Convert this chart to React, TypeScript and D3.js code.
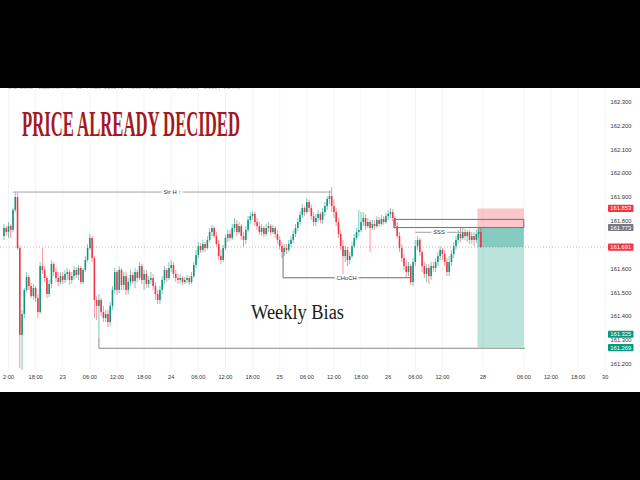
import React from 'react';
import * as d3 from 'd3';

// 30-minute bars, index 0 = 22nd 12:00 ; first stored bar is index -2
const FIRST_BAR = -2;

// [open, high, low, close]
const candles: [number, number, number, number][] = [
  [161.737, 161.788, 161.721, 161.771], [161.771, 161.779, 161.737, 161.754],
  [161.754, 161.796, 161.729, 161.779], [161.779, 161.788, 161.729, 161.763],
  [161.763, 161.855, 161.754, 161.847], [161.847, 161.922, 161.838, 161.901],
  [161.901, 161.918, 161.679, 161.687], [161.687, 161.695, 161.183, 161.322],
  [161.322, 161.427, 161.175, 161.410], [161.410, 161.519, 161.393, 161.511],
  [161.511, 161.586, 161.502, 161.565], [161.565, 161.574, 161.511, 161.527],
  [161.527, 161.540, 161.477, 161.485], [161.485, 161.536, 161.469, 161.519],
  [161.519, 161.527, 161.460, 161.477], [161.477, 161.494, 161.393, 161.418],
  [161.418, 161.628, 161.410, 161.611], [161.611, 161.687, 161.578, 161.595],
  [161.595, 161.611, 161.544, 161.561], [161.561, 161.569, 161.477, 161.494],
  [161.494, 161.553, 161.481, 161.536], [161.536, 161.637, 161.519, 161.620],
  [161.620, 161.628, 161.569, 161.586], [161.586, 161.603, 161.544, 161.561],
  [161.561, 161.586, 161.527, 161.544], [161.544, 161.586, 161.532, 161.569],
  [161.569, 161.586, 161.536, 161.553], [161.553, 161.595, 161.540, 161.578],
  [161.578, 161.603, 161.553, 161.586], [161.586, 161.595, 161.532, 161.553],
  [161.553, 161.586, 161.536, 161.569], [161.569, 161.611, 161.553, 161.595],
  [161.595, 161.607, 161.561, 161.574], [161.574, 161.616, 161.553, 161.603],
  [161.603, 161.611, 161.536, 161.544], [161.544, 161.603, 161.536, 161.595],
  [161.595, 161.653, 161.586, 161.637], [161.637, 161.704, 161.628, 161.687],
  [161.687, 161.746, 161.679, 161.729], [161.729, 161.737, 161.628, 161.645],
  [161.645, 161.653, 161.393, 161.469], [161.469, 161.485, 161.385, 161.444],
  [161.444, 161.494, 161.309, 161.469], [161.469, 161.477, 161.402, 161.418],
  [161.418, 161.444, 161.376, 161.393], [161.393, 161.427, 161.376, 161.410],
  [161.410, 161.427, 161.355, 161.376], [161.376, 161.460, 161.360, 161.444],
  [161.444, 161.527, 161.427, 161.511], [161.511, 161.603, 161.494, 161.586],
  [161.586, 161.595, 161.490, 161.511], [161.511, 161.611, 161.498, 161.595],
  [161.595, 161.603, 161.511, 161.532], [161.532, 161.586, 161.511, 161.569],
  [161.569, 161.586, 161.490, 161.511], [161.511, 161.561, 161.494, 161.544],
  [161.544, 161.595, 161.527, 161.574], [161.574, 161.586, 161.536, 161.548],
  [161.548, 161.603, 161.519, 161.586], [161.586, 161.595, 161.544, 161.561],
  [161.561, 161.628, 161.553, 161.611], [161.611, 161.620, 161.536, 161.553],
  [161.553, 161.595, 161.511, 161.578], [161.578, 161.595, 161.519, 161.536],
  [161.536, 161.569, 161.519, 161.553], [161.553, 161.586, 161.536, 161.561],
  [161.561, 161.578, 161.511, 161.527], [161.527, 161.544, 161.469, 161.494],
  [161.494, 161.511, 161.452, 161.469], [161.469, 161.527, 161.452, 161.511],
  [161.511, 161.569, 161.494, 161.553], [161.553, 161.611, 161.536, 161.595],
  [161.595, 161.603, 161.544, 161.561], [161.561, 161.628, 161.553, 161.603],
  [161.603, 161.637, 161.586, 161.616], [161.616, 161.628, 161.561, 161.578],
  [161.578, 161.595, 161.544, 161.561], [161.561, 161.578, 161.536, 161.553],
  [161.553, 161.578, 161.536, 161.561], [161.561, 161.569, 161.532, 161.544],
  [161.544, 161.565, 161.536, 161.553], [161.553, 161.574, 161.540, 161.561],
  [161.561, 161.569, 161.532, 161.544], [161.544, 161.586, 161.536, 161.569],
  [161.569, 161.628, 161.561, 161.616], [161.616, 161.679, 161.603, 161.658],
  [161.658, 161.712, 161.645, 161.695], [161.695, 161.708, 161.666, 161.679],
  [161.679, 161.721, 161.670, 161.704], [161.704, 161.712, 161.670, 161.687],
  [161.687, 161.737, 161.679, 161.721], [161.721, 161.771, 161.712, 161.754],
  [161.754, 161.784, 161.737, 161.771], [161.771, 161.779, 161.729, 161.737],
  [161.737, 161.754, 161.695, 161.704], [161.704, 161.721, 161.637, 161.653],
  [161.653, 161.679, 161.620, 161.637], [161.637, 161.700, 161.628, 161.687],
  [161.687, 161.742, 161.679, 161.729], [161.729, 161.763, 161.712, 161.746],
  [161.746, 161.763, 161.716, 161.729], [161.729, 161.788, 161.721, 161.771],
  [161.771, 161.813, 161.754, 161.788], [161.788, 161.805, 161.737, 161.754],
  [161.754, 161.796, 161.746, 161.779], [161.779, 161.788, 161.721, 161.737],
  [161.737, 161.754, 161.691, 161.721], [161.721, 161.779, 161.704, 161.763],
  [161.763, 161.821, 161.754, 161.805], [161.805, 161.838, 161.788, 161.821],
  [161.821, 161.842, 161.805, 161.830], [161.830, 161.838, 161.779, 161.796],
  [161.796, 161.813, 161.763, 161.779], [161.779, 161.796, 161.742, 161.754],
  [161.754, 161.788, 161.737, 161.771], [161.771, 161.779, 161.733, 161.746],
  [161.746, 161.788, 161.737, 161.771], [161.771, 161.796, 161.754, 161.779],
  [161.779, 161.788, 161.742, 161.754], [161.754, 161.784, 161.746, 161.771],
  [161.771, 161.779, 161.729, 161.746], [161.746, 161.763, 161.704, 161.721],
  [161.721, 161.737, 161.679, 161.695], [161.695, 161.712, 161.645, 161.670],
  [161.670, 161.704, 161.653, 161.687], [161.687, 161.704, 161.662, 161.679],
  [161.679, 161.721, 161.670, 161.704], [161.704, 161.737, 161.691, 161.721],
  [161.721, 161.763, 161.708, 161.746], [161.746, 161.788, 161.733, 161.771],
  [161.771, 161.813, 161.758, 161.796], [161.796, 161.842, 161.784, 161.826],
  [161.826, 161.872, 161.813, 161.855], [161.855, 161.863, 161.821, 161.838],
  [161.838, 161.897, 161.830, 161.880], [161.880, 161.889, 161.838, 161.855],
  [161.855, 161.868, 161.805, 161.821], [161.821, 161.838, 161.779, 161.796],
  [161.796, 161.830, 161.779, 161.813], [161.813, 161.847, 161.796, 161.830],
  [161.830, 161.838, 161.792, 161.805], [161.805, 161.855, 161.788, 161.838],
  [161.838, 161.880, 161.821, 161.863], [161.863, 161.905, 161.847, 161.893],
  [161.893, 161.930, 161.872, 161.905], [161.905, 161.943, 161.838, 161.863],
  [161.863, 161.889, 161.813, 161.838], [161.838, 161.855, 161.779, 161.796],
  [161.796, 161.813, 161.729, 161.746], [161.746, 161.763, 161.679, 161.695],
  [161.695, 161.721, 161.578, 161.653], [161.653, 161.695, 161.628, 161.679],
  [161.679, 161.691, 161.611, 161.637], [161.637, 161.670, 161.620, 161.653],
  [161.653, 161.712, 161.645, 161.695], [161.695, 161.746, 161.687, 161.729],
  [161.729, 161.771, 161.721, 161.754], [161.754, 161.847, 161.737, 161.763],
  [161.763, 161.838, 161.754, 161.796], [161.796, 161.838, 161.779, 161.813],
  [161.813, 161.830, 161.763, 161.779], [161.779, 161.813, 161.771, 161.796],
  [161.796, 161.805, 161.670, 161.771], [161.771, 161.805, 161.763, 161.788],
  [161.788, 161.805, 161.763, 161.779], [161.779, 161.821, 161.771, 161.805],
  [161.805, 161.817, 161.775, 161.788], [161.788, 161.826, 161.779, 161.809],
  [161.809, 161.821, 161.784, 161.796], [161.796, 161.834, 161.788, 161.821],
  [161.821, 161.847, 161.805, 161.830], [161.830, 161.855, 161.813, 161.838],
  [161.838, 161.851, 161.800, 161.813], [161.813, 161.821, 161.767, 161.779],
  [161.779, 161.796, 161.729, 161.737], [161.737, 161.754, 161.670, 161.687],
  [161.687, 161.704, 161.628, 161.645], [161.645, 161.662, 161.595, 161.611],
  [161.611, 161.637, 161.561, 161.586], [161.586, 161.628, 161.569, 161.611],
  [161.611, 161.620, 161.532, 161.544], [161.544, 161.645, 161.527, 161.628],
  [161.628, 161.721, 161.611, 161.695], [161.695, 161.737, 161.679, 161.721],
  [161.721, 161.729, 161.653, 161.670], [161.670, 161.679, 161.586, 161.611],
  [161.611, 161.628, 161.561, 161.578], [161.578, 161.620, 161.544, 161.603],
  [161.603, 161.620, 161.536, 161.569], [161.569, 161.628, 161.553, 161.611],
  [161.611, 161.628, 161.586, 161.603], [161.603, 161.645, 161.586, 161.628],
  [161.628, 161.670, 161.611, 161.653], [161.653, 161.695, 161.637, 161.679],
  [161.679, 161.687, 161.637, 161.662], [161.662, 161.679, 161.611, 161.628],
  [161.628, 161.645, 161.569, 161.586], [161.586, 161.653, 161.569, 161.628],
  [161.628, 161.679, 161.611, 161.662], [161.662, 161.712, 161.645, 161.695],
  [161.695, 161.737, 161.679, 161.721], [161.721, 161.763, 161.704, 161.746],
  [161.746, 161.771, 161.712, 161.729], [161.729, 161.771, 161.721, 161.754],
  [161.754, 161.767, 161.721, 161.737], [161.737, 161.763, 161.712, 161.754],
  [161.754, 161.763, 161.704, 161.721], [161.721, 161.754, 161.704, 161.737],
  [161.737, 161.754, 161.695, 161.721], [161.721, 161.763, 161.708, 161.746],
  [161.746, 161.767, 161.729, 161.754], [161.754, 161.771, 161.687, 161.691],
];

// 161.700 sits under the last-price badge, so it is not labelled
const priceTicks = [162.3, 162.2, 162.1, 162.0, 161.9, 161.8, 161.6, 161.5, 161.4, 161.3, 161.2];

const timeTicks: [number, string][] = [
  [0, '2:00'], [12, '18:00'], [24, '23'], [36, '06:00'], [48, '12:00'], [60, '18:00'],
  [72, '24'], [84, '06:00'], [96, '12:00'], [108, '18:00'], [120, '25'], [132, '06:00'],
  [144, '12:00'], [156, '18:00'], [168, '26'], [180, '06:00'], [192, '12:00'],
  [210, '28'], [228, '06:00'], [240, '12:00'], [252, '18:00'], [264, '30'],
];

const badgeValues = [161.853, 161.773, 161.691, 161.325, 161.269];
const badgeColors = ['#f23645', '#787b86', '#f23645', '#089981', '#089981'];

const lastPrice = 161.691;

// short position: stop, entry, target (bar span)
const position = { from: 207.5, to: 228, stop: 161.853, entry: 161.773, target: 161.269 };
const zoneBox = { from: 170.5, to: 228, top: 161.807, bottom: 161.773 };

const strHigh = { from: 2, to: 143, level: 161.922, label: 'Str H \u2191' };
const choch = { at: 121.5, to: 177.7, start: 161.670, level: 161.562, label: 'CHoCH' };
const sss = { from: 180, to: 201, level: 161.753, label: 'SSS' };
const weekly = { at: 40, to: 228.5, start: 161.309, level: 161.266 };

const UP = '#089981';
const DOWN = '#f23645';
const SANS = "'Liberation Sans', Arial, sans-serif";

export default function App() {
  const x = d3.scaleLinear().domain([0, 264]).range([8.5, 605.14]);
  const y = d3.scaleLinear().domain([161.2, 162.3]).range([364, 102]);

  const label = (tx: number, ty: number, text: string) => (
    <text x={tx} y={ty + 2} textAnchor="middle" fontFamily={SANS} fontSize={5.8} fill="#333"
      stroke="#fff" strokeWidth={4} paintOrder="stroke">{text}</text>
  );

  return (
    <svg width={640} height={480} style={{ position: 'absolute', left: 0, top: 0, display: 'block' }}>
      <defs>
        <clipPath id="screen"><rect x={0} y={88} width={640} height={304} /></clipPath>
        <clipPath id="pane"><rect x={0} y={88} width={607} height={284} /></clipPath>
      </defs>
      <rect width={640} height={480} fill="#000" />
      <rect x={0} y={88} width={640} height={304} fill="#fff" />

      <g clipPath="url(#screen)">
        <text x={8} y={89} fontFamily={SANS} fontSize={6} fill="#9a9ea8" textLength={232} lengthAdjust="spacingAndGlyphs">
          U.S. Dollar / Japanese Yen · 30 · FXCM  O161.754 H161.771 L161.687 C161.691 −0.063 (−0.04%)
        </text>

        {timeTicks.map(([i]) => (
          <line key={'g' + i} x1={x(i)} x2={x(i)} y1={88} y2={370} stroke="#eef0f3" strokeWidth={0.8} />
        ))}

        <g clipPath="url(#pane)">
          {/* position tool */}
          <rect x={x(position.from)} width={x(position.to) - x(position.from)}
            y={y(position.stop)} height={y(position.entry) - y(position.stop)} fill="rgba(242,54,69,0.28)" />
          <rect x={x(position.from)} width={x(position.to) - x(position.from)}
            y={y(position.entry)} height={y(position.target) - y(position.entry)} fill="rgba(8,153,129,0.28)" />
          <rect x={x(position.from)} width={x(position.to) - x(position.from)}
            y={y(position.entry)} height={y(lastPrice) - y(position.entry)} fill="rgba(8,153,129,0.3)" />

          <line x1={0} x2={607} y1={y(lastPrice)} y2={y(lastPrice)} stroke="#e8707a" strokeWidth={0.8}
            strokeDasharray="1 2" opacity={0.8} />

          {candles.map((c, k) => {
            const i = k + FIRST_BAR;
            const [o, h, l, cl] = c;
            const col = cl >= o ? UP : DOWN;
            const cx = x(i);
            const top = y(Math.max(o, cl));
            const bh = Math.max(0.8, Math.abs(y(o) - y(cl)));
            return (
              <g key={i}>
                <line x1={cx} x2={cx} y1={y(h)} y2={y(l)} stroke={col} strokeWidth={0.7} opacity={0.75} />
                <rect x={cx - 0.8} width={1.6} y={top} height={bh} fill={col} />
              </g>
            );
          })}

          <rect x={x(zoneBox.from)} width={x(zoneBox.to) - x(zoneBox.from)}
            y={y(zoneBox.top)} height={y(zoneBox.bottom) - y(zoneBox.top)} fill="none" stroke="#7a7a7a" strokeWidth={1.1} />

          <line x1={x(strHigh.from)} x2={x(strHigh.to)} y1={y(strHigh.level)} y2={y(strHigh.level)} stroke="#a0a0a0" strokeWidth={1} />
          {label((x(strHigh.from) + x(strHigh.to)) / 2, y(strHigh.level), strHigh.label)}

          <path d={`M${x(choch.at)},${y(choch.start)}V${y(choch.level)}H${x(choch.to)}`} fill="none" stroke="#6e6e6e" strokeWidth={1} />
          {label((x(choch.at) + x(choch.to)) / 2, y(choch.level), choch.label)}

          <line x1={x(sss.from)} x2={x(sss.to)} y1={y(sss.level)} y2={y(sss.level)} stroke="#a0a0a0" strokeWidth={1} />
          {label((x(sss.from) + x(sss.to)) / 2, y(sss.level), sss.label)}

          <path d={`M${x(weekly.at)},${y(weekly.start)}V${y(weekly.level)}H${x(weekly.to)}`} fill="none" stroke="#8a8a8a" strokeWidth={1} />
        </g>

        <text x={22} y={136} fontFamily="'Liberation Serif', serif" fontWeight="bold" fontSize={35} fill="#a3191f"
          textLength={218} lengthAdjust="spacingAndGlyphs">PRICE ALREADY DECIDED</text>
        <text x={251} y={319} fontFamily="'Liberation Serif', serif" fontSize={20} fill="#1a1a1a"
          textLength={93} lengthAdjust="spacingAndGlyphs">Weekly Bias</text>

        {priceTicks.map(p => (
          <text key={p} x={621} y={y(p) + 2} textAnchor="middle" fontFamily={SANS} fontSize={5.8} fill="#333">
            {p.toFixed(3)}
          </text>
        ))}
        {badgeValues.map((v, k) => (
          <g key={v}>
            <rect x={608} y={y(v) - 3.6} width={25.5} height={7.2} rx={0.8} fill={badgeColors[k]} />
            <text x={620.7} y={y(v) + 2} textAnchor="middle" fontFamily={SANS} fontSize={5.8} fill="#fff">{v.toFixed(3)}</text>
          </g>
        ))}

        {timeTicks.map(([i, t]) => (
          <text key={'t' + i} x={x(i)} y={378.8} textAnchor="middle" fontFamily={SANS} fontSize={5.6} fill="#333">{t}</text>
        ))}
      </g>
    </svg>
  );
}
